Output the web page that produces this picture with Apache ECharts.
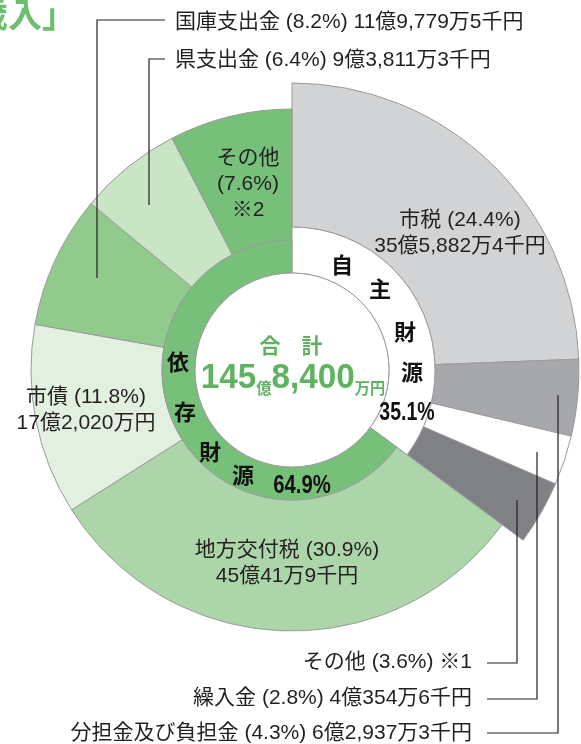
<!DOCTYPE html>
<html>
<head>
<meta charset="utf-8">
<script src="https://cdn.jsdelivr.net/npm/echarts@6/dist/echarts.min.js"></script>
<style>
  html, body { margin: 0; padding: 0; background: #fff; }
  #chart { width: 581px; height: 744px; }
</style>
</head>
<body>
<div id="chart"></div>
<script>
// 自主財源 (own revenue) - clockwise from 12 o'clock
const jishuNames = ['市税', '分担金及び負担金', '繰入金', 'その他'];
const jishuValues = [24.4, 4.3, 2.8, 3.6];
const jishuAmounts = ['35億5,882万4千円', '6億2,937万3千円', '4億354万6千円', ''];
const jishuColors = ['#d2d3d5', '#a7a8ab', '#ffffff', '#808184'];

// 依存財源 (dependent revenue)
const izonNames = ['地方交付税', '市債', '国庫支出金', '県支出金', 'その他'];
const izonValues = [30.9, 11.8, 8.2, 6.4, 7.6];
const izonAmounts = ['45億41万9千円', '17億2,020万円', '11億9,779万5千円', '9億3,811万3千円', ''];
const izonColors = ['#acd6a9', '#e2f0e0', '#90cb8d', '#c9e5c5', '#77c07a'];

const groupNames = ['自主財源', '依存財源'];
const groupValues = [35.1, 64.9];
const totalText = ['145', '億', '8,400', '万円'];

const FONT = '"Liberation Sans", "Noto Sans CJK JP", sans-serif';
const CJK = '"Noto Sans CJK JP", sans-serif';
const LINE = '#9a9a9a';
const GREEN_TXT = '#5db35f';

const chart = echarts.init(document.getElementById('chart'), null, { renderer: 'canvas' });

const center = [292, 370];
const hidden = {
  itemStyle: { color: 'rgba(0,0,0,0)', borderWidth: 0 }
};
const pct = v => '(' + v.toFixed(1) + '%)';

const basePie = {
  type: 'pie',
  center: center,
  startAngle: 90,
  clockwise: true,
  silent: true,
  animation: false,
  label: { show: false },
  labelLine: { show: false },
  emphasis: { disabled: true },
  itemStyle: { borderColor: LINE, borderWidth: 1 }
};

const series = [
  // outer ring - own revenue (bigger)
  Object.assign({}, basePie, {
    radius: [143, 287],
    data: jishuValues.map((v, i) => ({ name: jishuNames[i], value: v, itemStyle: { color: jishuColors[i] } }))
      .concat([Object.assign({ name: 'skip', value: groupValues[1] }, hidden)])
  }),
  // outer ring - dependent revenue
  Object.assign({}, basePie, {
    radius: [130, 261],
    data: [Object.assign({ name: 'skip', value: groupValues[0] }, hidden)]
      .concat(izonValues.map((v, i) => ({ name: izonNames[i], value: v, itemStyle: { color: izonColors[i] } })))
  }),
  // inner ring - own revenue group (white)
  Object.assign({}, basePie, {
    radius: [97, 143],
    data: [
      { name: groupNames[0], value: groupValues[0], itemStyle: { color: '#ffffff' } },
      Object.assign({ name: 'skip', value: groupValues[1] }, hidden)
    ]
  }),
  // inner ring - dependent group (green)
  Object.assign({}, basePie, {
    radius: [97, 130],
    data: [
      Object.assign({ name: 'skip', value: groupValues[0] }, hidden),
      { name: groupNames[1], value: groupValues[1], itemStyle: { color: '#77c07a' } }
    ]
  }),
  // centre disc
  Object.assign({}, basePie, {
    radius: [0, 97],
    data: [{ name: '合計', value: 1, itemStyle: { color: '#ffffff' } }]
  })
];

const txt = (x, y, text, extra, scaleX) => ({
  type: 'text',
  x: x, y: y,
  z: 100,
  scaleX: scaleX || 1,
  silent: true,
  style: Object.assign({
    text: text,
    fill: '#231f20',
    font: '21px ' + FONT,
    align: 'center',
    verticalAlign: 'middle',
    lineHeight: 26
  }, extra || {})
});

const leader = pts => ({
  type: 'polyline',
  z: 90,
  silent: true,
  shape: { points: pts },
  style: { stroke: '#231f20', lineWidth: 1.2, fill: null }
});

const boldChar = (x, y, ch) => txt(x, y, ch, { font: 'bold 22px ' + CJK, fill: '#111' });

const graphics = [
  // cut-off title
  txt(76, 14, '歳入」', { font: 'bold 34px ' + CJK, fill: '#6cbf6e', align: 'right' }),

  // labels inside slices
  txt(460, 233, jishuNames[0] + ' ' + pct(jishuValues[0]) + '\n' + jishuAmounts[0]),
  txt(248, 184, izonNames[4] + '\n' + pct(izonValues[4]) + '\n※2'),
  txt(86, 410, izonNames[1] + ' ' + pct(izonValues[1]) + '\n' + izonAmounts[1]),
  txt(287, 563, izonNames[0] + ' ' + pct(izonValues[0]) + '\n' + izonAmounts[0]),

  // outside labels, top
  txt(175, 22, izonNames[2] + ' ' + pct(izonValues[2]) + ' ' + izonAmounts[2], { align: 'left' }),
  txt(175, 60, izonNames[3] + ' ' + pct(izonValues[3]) + ' ' + izonAmounts[3], { align: 'left' }),
  leader([[165, 20], [97, 20], [97, 278]]),
  leader([[165, 59], [149, 59], [149, 205]]),

  // outside labels, bottom
  txt(472, 662, jishuNames[3] + ' ' + pct(jishuValues[3]) + ' ※1', { align: 'right' }),
  txt(472, 698, jishuNames[2] + ' ' + pct(jishuValues[2]) + ' ' + jishuAmounts[2], { align: 'right' }),
  txt(472, 733, jishuNames[1] + ' ' + pct(jishuValues[1]) + ' ' + jishuAmounts[1], { align: 'right' }),
  leader([[487, 663], [517, 663], [517, 500]]),
  leader([[487, 699], [537, 699], [537, 452]]),
  leader([[487, 733], [558, 733], [558, 395]]),

  // group ring labels
  boldChar(342, 265, '自'),
  boldChar(380, 289, '主'),
  boldChar(405, 332, '財'),
  boldChar(412, 372, '源'),
  txt(407, 413, groupValues[0].toFixed(1) + '%', { font: 'bold 26px "Liberation Sans", sans-serif', fill: '#111' }, 0.75),
  boldChar(178, 362, '依'),
  boldChar(185, 412, '存'),
  boldChar(210, 452, '財'),
  boldChar(243, 475, '源'),
  txt(302, 486, groupValues[1].toFixed(1) + '%', { font: 'bold 26px "Liberation Sans", sans-serif', fill: '#111' }, 0.78),

  // centre total
  txt(291, 345, '合　計', { font: 'bold 21px ' + CJK, fill: GREEN_TXT }),
  {
    type: 'text',
    x: 293, y: 378,
    z: 100,
    scaleX: 0.95,
    silent: true,
    style: {
      text: '{b|' + totalText[0] + '}{s|' + totalText[1] + '}{b|' + totalText[2] + '}{s|' + totalText[3] + '}',
      align: 'center',
      verticalAlign: 'middle',
      rich: {
        b: { font: 'bold 35px "Liberation Sans", sans-serif', fill: GREEN_TXT, verticalAlign: 'bottom', lineHeight: 36 },
        s: { font: 'bold 16px ' + CJK, fill: GREEN_TXT, verticalAlign: 'bottom', lineHeight: 32 }
      }
    }
  }
];

chart.setOption({
  backgroundColor: '#ffffff',
  animation: false,
  series: series,
  graphic: { elements: graphics }
});
</script>
</body>
</html>
